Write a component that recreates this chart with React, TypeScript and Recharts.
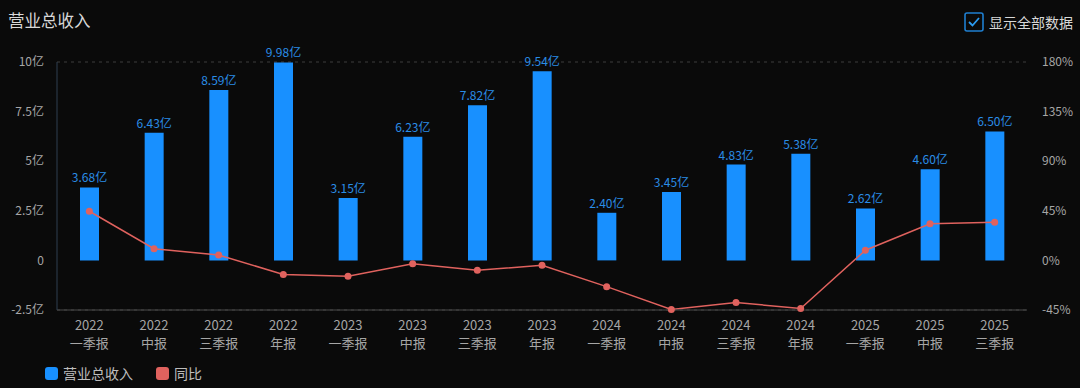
import { Bar, CartesianGrid, ComposedChart, LabelList, Line, XAxis, YAxis } from "recharts";

const periods = [
  "2022\n一季报", "2022\n中报", "2022\n三季报", "2022\n年报",
  "2023\n一季报", "2023\n中报", "2023\n三季报", "2023\n年报",
  "2024\n一季报", "2024\n中报", "2024\n三季报", "2024\n年报",
  "2025\n一季报", "2025\n中报", "2025\n三季报",
];
// 营业总收入, 亿
const revenue = [3.68, 6.43, 8.59, 9.98, 3.15, 6.23, 7.82, 9.54, 2.4, 3.45, 4.83, 5.38, 2.62, 4.6, 6.5];
// 同比, %
const yoy = [44.6, 10.6, 4.8, -12.7, -14.4, -3.1, -9.0, -4.4, -23.8, -44.6, -38.2, -43.6, 9.2, 33.3, 34.6];

const leftTicks = [-2.5, 0, 2.5, 5, 7.5, 10];
const rightTicks = [-45, 0, 45, 90, 135, 180];

const FONT = "'Noto Sans CJK SC', 'Noto Sans', sans-serif";
const BLUE = "#1890ff";
const RED = "#e0625e";

const data = periods.map((p, i) => ({ name: p, revenue: revenue[i], yoy: yoy[i] }));

function PeriodTick(props: any) {
  const { x, y, payload } = props;
  const [year, kind] = String(payload.value).split("\n");
  return (
    <g>
      <text x={x} y={y + 12} textAnchor="middle" fill="#a6a6a6" fontSize={13} fontFamily={FONT}>
        {year}
      </text>
      <text x={x} y={y + 30} textAnchor="middle" fill="#a6a6a6" fontSize={13} fontFamily={FONT}>
        {kind}
      </text>
    </g>
  );
}

export default function App() {
  return (
    <div
      style={{
        position: "fixed",
        left: 0,
        top: 0,
        width: 1080,
        height: 388,
        background: "#0a0a0a",
        fontFamily: FONT,
        overflow: "hidden",
      }}
    >
      <div style={{ position: "absolute", left: 8, top: 8, color: "#d8d8d8", fontSize: 16.5 }}>营业总收入</div>
      <div style={{ position: "absolute", right: 7, top: 12, display: "flex", alignItems: "center", gap: 5 }}>
        <svg width={20} height={20}>
          <rect x={1} y={1} width={18} height={18} rx={2} fill="none" stroke="#1f7fd0" strokeWidth={1.6} />
          <path d="M5 10 L8.5 13.5 L15 6" fill="none" stroke="#2b9bf0" strokeWidth={1.8} />
        </svg>
        <span style={{ color: "#d8d8d8", fontSize: 14 }}>显示全部数据</span>
      </div>

      <ComposedChart width={1080} height={388} data={data} margin={{ top: 62, right: 0, bottom: 48, left: 0 }}>
        <CartesianGrid vertical={false} stroke="#3c3c3c" strokeDasharray="3 4" />
        <XAxis
          dataKey="name"
          height={30}
          interval={0}
          tick={<PeriodTick />}
          tickLine={false}
          axisLine={{ stroke: "#4a4a4a" }}
        />
        <YAxis
          yAxisId="left"
          width={57}
          domain={[-2.5, 10]}
          ticks={leftTicks}
          tickLine={false}
          tickMargin={7}
          axisLine={{ stroke: "#2f3f50" }}
          tick={{ fill: "#a6a6a6", fontSize: 12, fontFamily: FONT }}
          tickFormatter={(v: number) => (v === 0 ? "0" : `${v}亿`)}
        />
        <YAxis
          yAxisId="right"
          orientation="right"
          width={53}
          domain={[-45, 180]}
          ticks={rightTicks}
          tickLine={false}
          tickMargin={9}
          axisLine={false}
          tick={{ fill: "#a6a6a6", fontSize: 12, fontFamily: FONT, textAnchor: "start" }}
          tickFormatter={(v: number) => `${v}%`}
        />
        <Bar yAxisId="left" dataKey="revenue" fill={BLUE} barSize={19} isAnimationActive={false}>
          <LabelList
            dataKey="revenue"
            position="top"
            offset={5}
            fill="#2a8de6"
            fontSize={12}
            fontFamily={FONT}
            formatter={(v: any) => `${Number(v).toFixed(2)}亿`}
          />
        </Bar>
        <Line
          yAxisId="right"
          dataKey="yoy"
          stroke={RED}
          strokeWidth={1.5}
          dot={{ r: 3.5, fill: RED, stroke: RED, strokeWidth: 0 }}
          activeDot={false}
          isAnimationActive={false}
        />
      </ComposedChart>

      <div
        style={{
          position: "absolute",
          left: 45,
          top: 363,
          display: "flex",
          alignItems: "center",
          color: "#bdbdbd",
          fontSize: 14,
        }}
      >
        <span style={{ width: 13, height: 13, borderRadius: 3, background: BLUE, display: "inline-block" }} />
        <span style={{ marginLeft: 5 }}>营业总收入</span>
        <span
          style={{ width: 13, height: 13, borderRadius: 3, background: RED, display: "inline-block", marginLeft: 23 }}
        />
        <span style={{ marginLeft: 5 }}>同比</span>
      </div>
    </div>
  );
}
